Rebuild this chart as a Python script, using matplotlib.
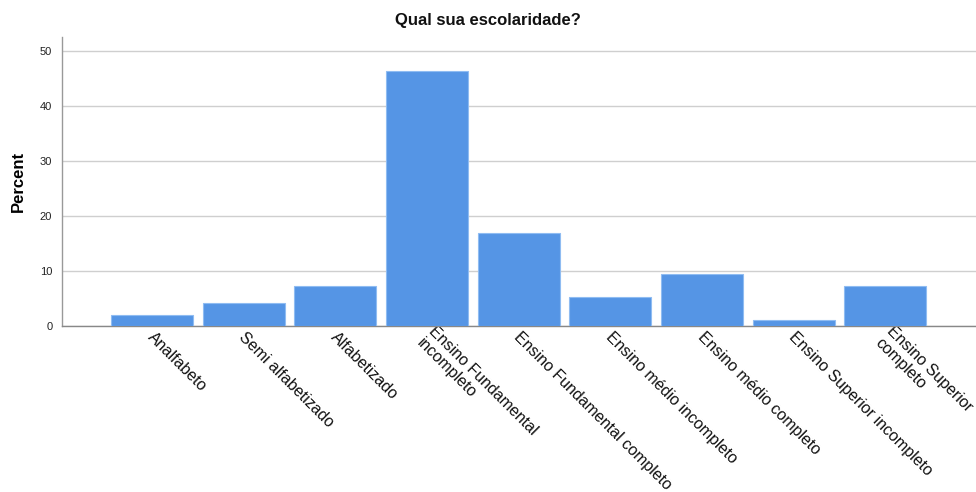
import matplotlib
matplotlib.use("Agg")
import matplotlib.pyplot as plt
from matplotlib.transforms import ScaledTranslation

categories = ["Analfabeto", "Semi alfabetizado", "Alfabetizado",
              "Ensino Fundamental\nincompleto", "Ensino Fundamental completo",
              "Ensino médio incompleto", "Ensino médio completo",
              "Ensino Superior incompleto", "Ensino Superior\ncompleto"]
percent = [2.0, 4.2, 7.3, 46.4, 16.9, 5.3, 9.5, 1.1, 7.3]
yticks = [0, 10, 20, 30, 40, 50]

plt.rcParams['font.family'] = ['Liberation Sans', 'DejaVu Sans']

fig = plt.figure(figsize=(9.76, 4.92), dpi=100)
ax = fig.add_axes([62/976, 1-326/492, 1-62/976, (326-37)/492])

x = list(range(len(categories)))
ax.bar(x, percent, width=0.895, color="#5595e5", edgecolor="#8fbcf2",
       linewidth=0.8, zorder=3)

ax.set_xlim(-0.982, 8.99)
ax.set_ylim(0, 52.5)
ax.set_yticks(yticks)
ax.set_yticklabels([str(v) for v in yticks], fontsize=8, color="#222222")
ax.yaxis.grid(True, color="#cfcfcf", linewidth=1.0, zorder=0)
ax.set_axisbelow(True)
ax.tick_params(axis='y', length=0, pad=7)
ax.tick_params(axis='x', length=0, pad=0)

ax.set_xticks(x)
ax.set_xticklabels(categories, rotation=-45, ha='left', va='center',
                   rotation_mode='anchor', fontsize=11.5, color="#111111",
                   linespacing=1.15)
off = ScaledTranslation(-2/100, -9/100, fig.dpi_scale_trans)
for lbl in ax.get_xticklabels():
    lbl.set_transform(lbl.get_transform() + off)

for s in ['top', 'right']:
    ax.spines[s].set_visible(False)
ax.spines['left'].set_color("#999999")
ax.spines['bottom'].set_color("#888888")
ax.spines['left'].set_linewidth(1.0)
ax.spines['bottom'].set_linewidth(1.0)

ax.set_ylabel("Percent", fontsize=12, fontweight='bold', labelpad=10)
fig.text(488/976, 1-20/492, "Qual sua escolaridade?", ha='center', va='center',
         fontsize=12, fontweight='bold', color="#111111")

fig.savefig("out.png", dpi=100)
